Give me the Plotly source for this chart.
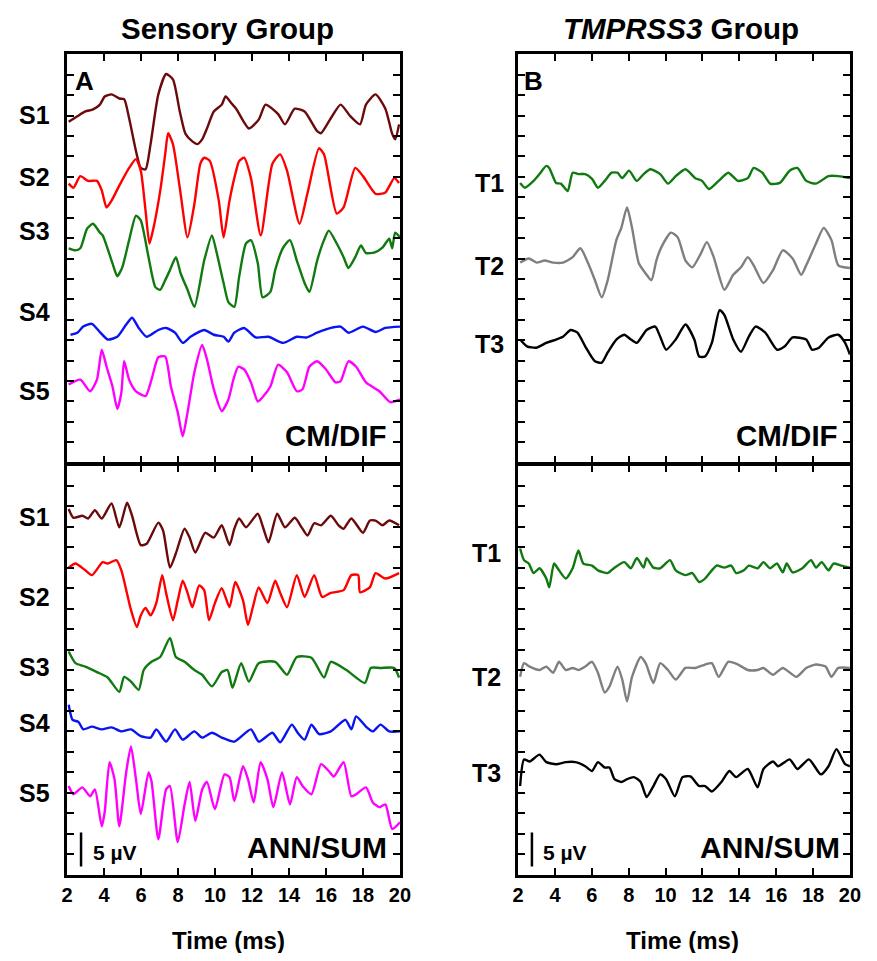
import plotly.graph_objects as go

# ---------------- data (time in ms, amplitude in µV on a 0-60 µV panel scale) ----------------
# Panel A, CM/DIF
T_S1_CM = [2.08,2.55,2.98,3.40,3.77,4.03,4.40,4.82,5.08,5.35,5.72,5.98,6.24,6.51,6.93,7.35,7.72,8.09,8.40,8.77,9.04,9.30,9.56,9.93,10.36,10.57,10.88,11.14,11.83,12.36,12.73,13.41,13.78,14.31,14.84,15.52,15.73,16.26,16.79,17.31,17.84,18.16,18.68,19.21,19.58,19.74,19.95]
V_S1_CM = [50.1,50.9,51.6,51.9,52.6,53.8,54.1,53.5,53.4,50.6,45.8,43.3,43.1,46.8,54.1,57.1,56.3,51.6,48.3,47.2,46.8,47.5,49.1,51.6,52.6,53.8,52.8,52.0,49.1,50.4,52.6,51.2,49.7,52.0,51.6,48.7,48.4,50.6,52.6,50.9,49.7,52.6,54.1,52.0,48.3,47.5,49.7]

T_S2_CM = [2.08,2.34,2.71,3.13,3.61,3.87,4.13,4.40,4.82,5.35,5.72,5.98,6.24,6.45,6.67,7.03,7.30,7.46,7.72,8.09,8.51,8.88,9.20,9.41,9.72,10.20,10.46,10.78,11.14,11.30,11.57,11.94,12.47,13.10,13.52,13.89,14.57,14.99,15.62,15.89,16.58,16.95,17.58,18.00,18.68,19.21,19.69,19.95]
V_S2_CM = [41.0,40.4,42.1,41.4,41.4,40.0,37.5,38.5,40.7,43.3,44.6,42.9,37.0,32.2,34.5,39.9,45.3,48.4,46.8,40.4,33.1,38.0,43.9,44.8,44.3,38.5,33.1,38.5,42.9,44.3,44.8,41.8,33.4,43.9,45.3,42.9,35.1,39.5,46.2,45.3,36.6,37.5,43.3,42.1,39.5,39.7,41.8,41.1]

T_S3_CM = [2.08,2.45,2.71,3.08,3.40,3.77,3.92,4.45,4.71,4.98,5.35,5.72,5.98,6.40,6.77,7.03,7.30,7.56,7.88,8.14,8.51,8.88,9.41,9.83,10.09,10.46,10.72,11.04,11.30,11.67,11.94,12.31,12.57,12.99,13.25,13.68,14.05,14.42,14.84,15.10,15.52,15.89,16.15,16.58,16.95,17.21,17.58,17.89,18.16,18.63,19.05,19.42,19.58,19.74,20.00]
V_S3_CM = [31.5,31.2,31.5,34.4,35.1,33.8,33.4,29.3,27.4,28.7,32.7,36.3,35.6,30.2,25.8,25.4,26.8,28.3,30.2,27.8,25.4,22.9,29.7,33.4,30.8,26.4,23.6,22.9,27.3,32.2,32.7,29.3,24.3,25.1,28.3,31.6,32.7,29.7,26.4,25.1,29.7,32.7,34.1,32.2,30.2,28.6,30.2,31.9,30.8,30.9,31.6,32.9,31.5,33.8,33.1]

T_S4_CM = [2.18,2.55,2.87,3.34,3.77,4.19,4.71,5.19,5.51,5.87,6.30,6.93,7.35,7.83,8.25,8.67,9.41,9.93,10.46,10.72,11.04,11.57,12.20,12.89,13.68,14.42,14.94,15.52,16.26,16.79,17.21,18.00,18.68,19.21,20.00]
V_S4_CM = [18.8,19.1,20.0,20.4,19.2,18.1,18.5,20.3,21.3,19.8,18.5,19.5,19.8,19.1,17.6,18.5,19.5,18.8,18.5,17.8,19.1,19.8,18.4,18.5,17.6,18.5,18.4,19.1,19.8,20.0,19.1,20.0,19.2,19.8,20.0]

T_S5_CM = [2.08,2.71,3.24,3.61,3.87,4.13,4.45,4.71,4.93,5.08,5.35,5.72,6.24,6.56,6.93,7.30,7.61,7.98,8.25,8.51,8.88,9.30,9.56,9.93,10.36,10.72,10.99,11.25,11.57,11.94,12.31,12.62,12.99,13.41,13.89,14.42,14.73,15.10,15.52,16.00,16.52,16.79,17.21,17.63,18.16,18.89,19.47,20.00]
V_S5_CM = [11.5,12.2,10.5,12.2,16.6,14.1,11.2,7.9,10.3,14.9,12.2,10.5,9.8,12.2,15.5,15.6,11.2,7.4,3.9,7.4,13.3,17.3,15.2,10.8,7.6,9.3,12.2,14.1,13.7,11.8,9.0,9.8,11.2,14.4,13.3,10.5,10.8,14.1,14.9,13.7,11.8,12.0,14.9,14.1,11.8,10.5,8.9,9.3]

# Panel A, ANN/SUM
T_S1_ANN = [2.08,2.34,2.82,3.13,3.50,3.87,4.40,4.82,5.24,5.51,5.98,6.30,6.93,7.19,7.56,7.88,8.35,8.62,8.93,9.46,9.93,10.36,10.78,11.04,11.30,11.67,12.31,12.62,12.89,13.36,13.78,14.31,14.68,15.00,15.36,15.73,16.26,16.68,16.95,17.37,18.00,18.37,18.68,19.05,19.42,19.95]
V_S1_ANN = [53.6,52.3,52.6,52.2,53.4,52.2,54.4,50.9,54.5,52.6,48.3,48.5,51.6,50.4,45.0,47.1,50.7,49.4,47.2,50.1,49.4,51.2,48.3,50.7,52.2,50.9,52.9,50.7,48.7,52.9,50.9,52.3,50.9,49.7,51.5,51.2,52.6,51.2,50.7,52.2,50.1,51.9,51.9,51.2,51.9,51.2]

T_S2_ANN = [2.08,2.45,2.98,3.34,3.92,4.19,4.66,4.93,5.45,5.77,5.98,6.24,6.51,6.82,7.14,7.35,7.72,7.98,8.25,8.51,8.77,9.14,9.41,9.67,9.99,10.36,10.78,11.09,11.51,11.78,12.04,12.36,12.83,13.25,13.52,13.89,14.42,14.84,15.36,15.79,16.26,16.95,17.37,17.74,17.84,18.37,18.68,19.21,19.95]
V_S2_ANN = [45.0,45.6,44.6,43.9,45.8,45.6,46.1,44.6,38.8,36.3,38.0,39.1,38.0,39.8,43.9,41.3,37.3,40.2,43.1,41.3,39.2,42.4,41.7,37.3,39.8,42.0,39.2,42.9,40.2,36.6,39.2,42.1,39.8,43.1,41.3,39.2,43.9,40.7,43.9,40.7,41.3,41.7,43.9,43.9,41.4,42.1,44.2,43.4,44.2]

T_S3_ANN = [2.08,2.45,2.98,3.61,4.19,4.82,5.08,5.45,5.87,6.14,6.56,7.03,7.56,7.88,8.35,8.88,9.30,9.83,10.36,10.67,10.94,11.41,11.83,12.36,13.25,13.89,14.42,15.21,15.89,16.26,17.10,18.10,18.42,18.95,19.69,19.95]
V_S3_ANN = [32.7,31.0,30.5,29.7,28.9,26.8,29.0,28.3,27.1,30.0,31.2,31.9,34.7,31.9,31.2,30.0,29.3,27.6,29.7,30.0,27.4,31.0,28.3,31.0,31.2,29.3,31.9,31.8,28.9,31.2,30.0,28.1,30.3,30.3,30.3,28.9]

T_S4_ANN = [2.08,2.29,2.61,2.87,3.34,3.87,4.40,4.93,5.45,5.98,6.51,6.82,7.35,7.83,8.25,8.88,9.30,9.83,10.36,11.04,11.94,12.36,13.10,13.52,14.15,14.47,14.84,15.21,15.63,16.26,17.05,17.37,17.63,18.16,18.53,18.95,19.42,20.00]
V_S4_ANN = [24.9,22.7,22.4,21.3,21.7,21.3,21.6,21.0,21.3,20.3,20.1,21.3,19.5,21.3,19.8,21.0,20.1,20.8,20.1,19.5,21.3,19.5,20.8,19.4,22.0,20.8,19.8,22.0,20.6,21.0,22.7,21.3,23.2,21.7,21.0,22.0,21.0,21.0]

T_S5_ANN = [2.08,2.34,2.82,3.24,3.50,3.87,4.03,4.29,4.56,4.82,5.19,5.45,5.72,5.98,6.40,6.56,6.93,7.35,7.56,7.98,8.35,8.62,8.93,9.30,9.56,9.99,10.51,10.78,11.04,11.51,11.78,12.09,12.46,12.83,13.15,13.62,14.05,14.42,14.73,15.21,15.73,16.15,16.42,16.95,17.37,17.63,18.16,18.53,18.89,19.21,19.58,20.00]
V_S5_ANN = [13.0,11.8,12.8,11.5,12.5,7.1,9.2,16.5,14.0,7.1,15.0,18.8,14.0,8.9,15.0,13.7,5.2,12.5,13.0,4.8,10.3,13.6,7.9,12.5,13.6,9.6,14.7,14.3,10.8,15.9,14.0,10.6,16.5,14.0,9.9,15.0,10.3,14.3,13.0,11.8,16.2,15.2,14.4,16.5,11.5,11.8,12.8,10.6,9.9,10.3,6.7,7.7]

# Panel B, CM/DIF
T_T1_CM = [2.11,2.37,2.84,3.16,3.53,3.69,4.06,4.32,4.69,4.96,5.27,5.64,6.01,6.33,6.70,7.07,7.39,7.65,8.02,8.44,8.81,9.18,9.71,10.13,10.55,11.08,11.61,11.98,12.35,12.88,13.40,13.93,14.46,14.78,15.25,15.67,16.20,16.73,17.15,17.63,18.16,18.84,19.37,20.00]
V_T1_CM = [41.1,40.4,41.4,42.4,43.6,43.3,41.1,41.0,39.9,42.6,42.4,42.4,41.7,40.4,41.4,42.6,42.6,41.8,42.9,41.4,42.4,43.1,42.4,41.0,42.1,43.1,41.8,41.4,40.2,41.4,42.6,41.4,41.8,43.3,42.6,41.0,41.1,42.9,43.3,41.4,41.0,42.1,42.1,41.8]

T_T2_CM = [2.11,2.58,3.00,3.43,3.90,4.43,4.96,5.38,5.80,6.17,6.54,6.86,7.33,7.60,7.91,8.18,8.55,8.92,9.23,9.50,9.76,10.29,10.66,11.08,11.45,11.87,12.24,12.61,13.19,13.67,14.09,14.46,14.78,15.31,15.83,16.36,16.89,17.36,17.63,18.16,18.58,19.00,19.37,20.00]
V_T2_CM = [29.4,30.0,29.4,29.7,29.4,29.4,30.2,31.5,29.3,26.8,24.3,26.8,32.7,34.5,37.5,34.5,29.3,27.8,26.8,29.7,31.6,33.8,33.1,29.7,28.7,30.5,32.4,30.2,25.4,27.6,28.7,30.2,29.0,26.4,28.3,31.2,30.0,27.6,29.0,32.2,34.5,32.7,29.0,28.6]

T_T3_CM = [2.11,2.48,3.00,3.53,4.06,4.43,4.85,5.22,5.64,6.17,6.54,6.86,7.33,7.76,8.12,8.44,8.97,9.44,9.71,10.03,10.55,11.08,11.56,11.82,12.14,12.51,12.93,13.19,13.67,14.09,14.51,14.88,15.41,16.05,16.47,16.89,17.63,17.95,18.32,18.84,19.37,19.74,20.00]
V_T3_CM = [18.1,17.1,16.9,17.6,18.1,18.5,19.5,19.1,17.1,14.9,14.7,16.2,18.1,18.8,18.1,17.6,19.5,20.0,18.5,16.6,18.1,20.3,18.1,15.6,15.6,17.6,22.4,21.7,18.1,16.3,18.5,20.0,19.1,16.6,17.1,18.4,18.1,16.6,16.9,18.4,18.8,17.6,15.9]

# Panel B, ANN/SUM
T_T1_ANN = [2.11,2.32,2.58,2.84,3.16,3.53,3.69,3.95,4.22,4.59,4.96,5.27,5.54,6.01,6.33,6.86,7.23,7.76,8.12,8.44,8.81,8.97,9.34,9.71,10.24,10.55,11.08,11.45,11.82,12.14,12.51,12.77,13.19,13.56,13.83,14.25,14.51,14.99,15.31,15.67,16.04,16.36,16.57,16.89,17.42,17.89,18.16,18.47,18.84,19.11,19.53,20.00]
V_T1_ANN = [47.8,46.1,45.6,44.2,44.9,43.4,42.1,45.6,44.6,43.4,44.9,47.5,45.6,45.3,44.6,44.2,45.0,45.8,44.9,46.4,45.0,46.4,45.0,44.9,46.1,44.6,43.9,44.2,42.9,43.4,44.6,45.3,45.0,45.3,44.2,44.6,45.3,44.9,45.8,44.9,45.6,44.3,45.6,44.3,44.9,46.1,45.0,45.8,44.6,45.6,45.3,45.0]

T_T2_ANN = [2.11,2.32,2.63,3.16,3.53,3.90,4.22,4.59,4.96,5.27,5.64,6.01,6.33,6.70,6.96,7.39,7.65,7.91,8.18,8.65,8.92,9.34,9.71,10.13,10.55,11.08,11.61,12.14,12.51,12.88,13.40,13.93,14.46,14.99,15.31,15.83,16.36,17.10,17.63,18.16,18.68,19.00,19.37,20.00]
V_T2_ANN = [29.0,31.0,30.5,30.0,30.5,29.6,31.2,30.0,30.3,30.0,30.5,31.2,29.6,26.7,27.6,30.5,28.6,25.4,29.0,31.9,31.0,28.1,31.0,30.0,28.6,30.3,30.3,30.8,31.0,29.0,31.2,30.8,30.0,30.0,30.3,29.3,30.3,29.0,30.3,30.8,30.5,29.0,30.3,30.3]

T_T3_ANN = [2.11,2.32,2.63,3.16,3.53,4.06,4.59,5.12,5.64,6.01,6.33,6.70,6.96,7.23,7.60,7.91,8.28,8.65,8.97,9.34,9.71,10.03,10.50,10.92,11.35,11.82,12.14,12.51,13.03,13.46,13.83,14.46,14.99,15.31,15.83,16.10,16.73,17.15,17.78,18.42,18.84,19.27,19.74,20.00]
V_T3_ANN = [13.0,16.9,16.6,17.6,16.5,16.2,16.5,16.5,15.9,15.2,16.5,15.7,15.7,14.0,13.6,14.0,14.3,13.6,11.4,13.0,14.7,14.0,11.5,14.3,14.4,13.0,13.0,12.2,13.6,15.2,14.3,15.5,12.8,15.5,16.6,15.9,16.9,15.5,16.9,14.7,15.9,18.4,16.2,15.9]

SCALE_UV = 5          # scale bar height (µV)
SCALE_T = 2.75        # scale bar time position (ms)
SCALE_BASE = 1.2      # scale bar bottom (µV)

X_TICKS = [2, 4, 6, 8, 10, 12, 14, 16, 18, 20]
LABELS_S = ["S1", "S2", "S3", "S4", "S5"]
LABELS_T = ["T1", "T2", "T3"]

COL_S = ["#6b0a0a", "#ff0000", "#107a10", "#0a14f0", "#ff00ff"]
COL_T = ["#107a10", "#7f7f7f", "#000000"]

# ---------------- figure ----------------
# The page body keeps its default 8 px margin, so the figure is drawn 8 px in
# from the window edge and sized so that nothing overflows the 877x961 window.
OFF = 8
W, H = 877 - 2 * OFF, 961 - 2 * OFF
FONT = "Liberation Sans, Arial, sans-serif"
LW = 2.5  # frame line width


def px(x):
    return (x - OFF) / W


def py(y):
    return 1 - (y - OFF) / H


fig = go.Figure()

panels = [
    ("x3", "y3", [(T_S1_CM, V_S1_CM), (T_S2_CM, V_S2_CM), (T_S3_CM, V_S3_CM), (T_S4_CM, V_S4_CM), (T_S5_CM, V_S5_CM)], COL_S),
    ("x", "y", [(T_S1_ANN, V_S1_ANN), (T_S2_ANN, V_S2_ANN), (T_S3_ANN, V_S3_ANN), (T_S4_ANN, V_S4_ANN), (T_S5_ANN, V_S5_ANN)], COL_S),
    ("x4", "y4", [(T_T1_CM, V_T1_CM), (T_T2_CM, V_T2_CM), (T_T3_CM, V_T3_CM)], COL_T),
    ("x2", "y2", [(T_T1_ANN, V_T1_ANN), (T_T2_ANN, V_T2_ANN), (T_T3_ANN, V_T3_ANN)], COL_T),
]
for xa, ya, trs, cols in panels:
    for (t, v), c in zip(trs, cols):
        fig.add_trace(go.Scatter(x=t, y=v, mode="lines", xaxis=xa, yaxis=ya,
                                 line=dict(color=c, width=2.4, shape="spline", smoothing=0.6),
                                 showlegend=False, hoverinfo="skip"))

# scale bars
for xa, ya in [("x", "y"), ("x2", "y2")]:
    fig.add_trace(go.Scatter(x=[SCALE_T, SCALE_T], y=[SCALE_BASE, SCALE_BASE + SCALE_UV],
                             mode="lines", xaxis=xa, yaxis=ya,
                             line=dict(color="black", width=2.5), showlegend=False,
                             hoverinfo="skip"))

h = LW / 2
# plot areas (axis lines are drawn just outside these)
XL = [px(61 + h), px(403 - h)]
XR = [px(521 + h), px(862 - h)]
YT = [py(464 - h), py(53 + h)]
YB = [py(876 - h), py(464 + h)]


def xax(domain, anchor, labels):
    return dict(domain=domain, anchor=anchor, range=[2, 20], tickvals=X_TICKS,
                showticklabels=labels, ticks="inside", ticklen=7, tickwidth=2,
                tickcolor="black", showline=True, linewidth=LW, linecolor="black",
                mirror="ticks", showgrid=False, zeroline=False,
                tickfont=dict(family=FONT, size=20, color="black", weight="bold"))


def yax(domain, anchor):
    return dict(domain=domain, anchor=anchor, range=[0, 60], tick0=0, dtick=3,
                showticklabels=False, ticks="inside", ticklen=7, tickwidth=2,
                tickcolor="black", showline=True, linewidth=LW, linecolor="black",
                mirror="ticks", showgrid=False, zeroline=False)


fig.update_layout(
    width=W, height=H, autosize=False, margin=dict(l=0, r=0, t=0, b=0, pad=0),
    paper_bgcolor="white", plot_bgcolor="white",
    xaxis=xax(XL, "y", True), yaxis=yax(YB, "x"),
    xaxis2=xax(XR, "y2", True), yaxis2=yax(YB, "x2"),
    xaxis3=xax(XL, "y3", False), yaxis3=yax(YT, "x3"),
    xaxis4=xax(XR, "y4", False), yaxis4=yax(YT, "x4"),
)

ann = []


def text(s, x, y, size, xanchor="center", yanchor="middle"):
    ann.append(dict(text=s, x=px(x), y=py(y), xref="paper", yref="paper",
                    showarrow=False, xanchor=xanchor, yanchor=yanchor,
                    font=dict(family=FONT, size=size, color="black", weight="bold")))


# titles
text("Sensory Group", 226, 28, 29.5)
text("<i>TMPRSS3</i> Group", 688, 28, 29.5)
# panel letters
text("A", 80, 81, 26)
text("B", 538, 81, 26)
# trace labels
for lab, y in zip(LABELS_S, [115, 177, 231, 312, 391]):
    text(lab, 29, y, 25)
for lab, y in zip(LABELS_S, [517, 597, 667, 723, 793]):
    text(lab, 29, y, 25)
for lab, y in zip(LABELS_T, [183, 266, 344]):
    text(lab, 493, y, 25)
for lab, y in zip(LABELS_T, [553, 677, 773]):
    text(lab, 490, y, 25)
# condition labels
text("CM/DIF", 391, 435, 29.5, xanchor="right")
text("CM/DIF", 851, 435, 29.5, xanchor="right")
text("ANN/SUM", 391, 847, 30, xanchor="right")
text("ANN/SUM", 853, 847, 30, xanchor="right")
# scale bar labels
text("5 µV", 87, 852, 21, xanchor="left")
text("5 µV", 546, 852, 21, xanchor="left")
# axis titles
text("Time (ms)", 227, 940, 24)
text("Time (ms)", 690, 940, 24)

fig.update_layout(annotations=ann)
fig.write_html("out.html", config={"responsive": False, "displayModeBar": False})
